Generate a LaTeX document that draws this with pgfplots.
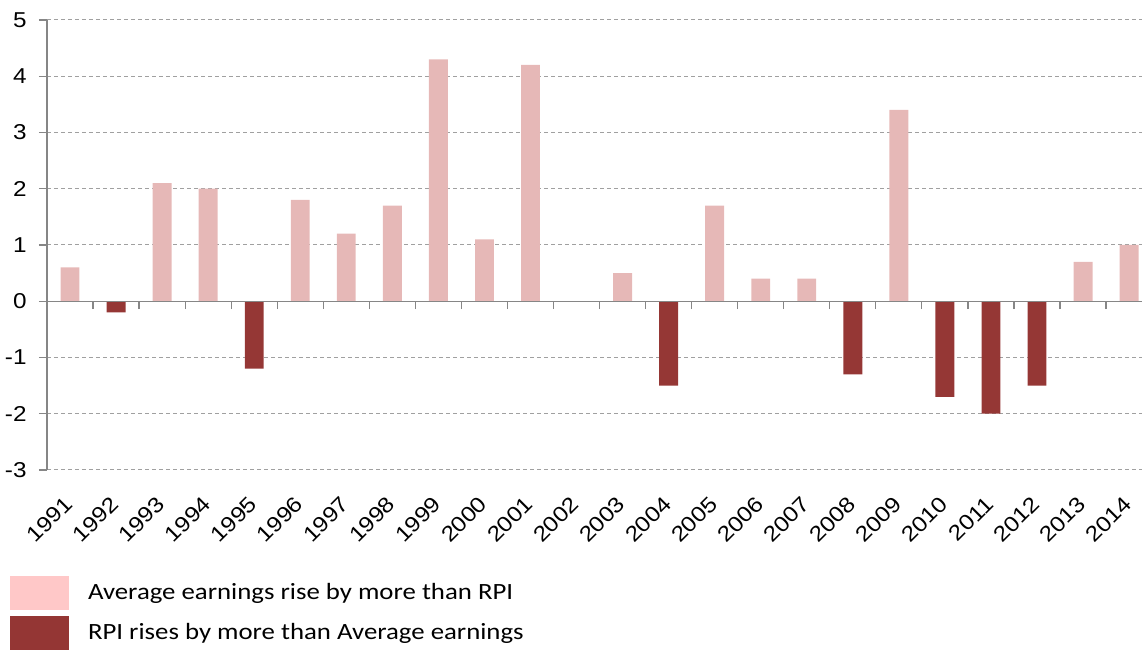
\documentclass[border=0pt]{standalone}
\usepackage{fontspec}
\setmainfont{Liberation Sans}[FakeStretch=1.13]
\newfontfamily\carlito{Carlito}[FakeStretch=1.15]
\usepackage{pgfplots}
\pgfplotsset{compat=1.18}

\definecolor{barpink}{HTML}{E6B8B7}
\definecolor{barred}{HTML}{953735}
\definecolor{legpink}{HTML}{FFC8C8}
\definecolor{legred}{HTML}{943634}
\definecolor{axisgray}{HTML}{868686}
\definecolor{gridgray}{HTML}{A0A0A0}

\begin{document}
\begin{tikzpicture}
\pgfplotsset{
  frame/.style={
    width=547.5pt, height=225pt, scale only axis,
    xmin=-0.5, xmax=23.28, ymin=-3, ymax=5,
  },
}
\begin{axis}[
  frame,
  axis lines*=left,
  x axis line style={draw=none},
  y axis line style={axisgray, line width=0.6pt},
  ytick={-3,...,5},
  ymajorgrids,
  grid style={gridgray, line width=0.5pt, dash pattern=on 2pt off 1.5pt},
  major y tick style={axisgray, line width=0.6pt},
  major x tick style={draw=none},
  tick align=outside,
  major tick length=4pt,
  /pgf/number format/assume math mode=true,
  tick label style={font=\fontsize{10.75}{12}\selectfont, inner sep=0pt},
  yticklabel style={xshift=-6pt},
  xtick={0,...,23},
  xticklabels={1991,1992,1993,1994,1995,1996,1997,1998,1999,2000,2001,2002,2003,2004,2005,2006,2007,2008,2009,2010,2011,2012,2013,2014},
  xticklabel style={xshift=-0.5pt, yshift=-11pt, rotate=45, anchor=east},
  ybar, bar width=0.41, bar shift=0pt,
  legend cell align=left,
  legend style={at={(0,0)}, anchor=north west, xshift=-18.5pt, yshift=-53pt,
    draw=none, fill=none, inner sep=0pt, outer sep=0pt, row sep=3pt,
    font=\carlito\fontsize{11.65}{14}\selectfont,
    nodes={inner sep=0pt},
    /tikz/every odd column/.append style={column sep=9.5pt}},
  clip=false,
]
% Years in which average earnings outpaced RPI
\addplot[fill=barpink, draw=none,
  legend image code/.code={\fill[legpink] (0pt,-8.5pt) rectangle (29.5pt,8.5pt);}]
  coordinates {(0,0.6) (2,2.1) (3,2.0) (5,1.8) (6,1.2) (7,1.7) (8,4.3) (9,1.1)
    (10,4.2) (12,0.5) (14,1.7) (15,0.4) (16,0.4) (18,3.4) (22,0.7) (23,1.0)};
\addlegendentry{Average earnings rise by more than RPI}
% Years in which RPI outpaced average earnings
\addplot[fill=barred, draw=none,
  legend image code/.code={\fill[legred] (0pt,-8.5pt) rectangle (29.5pt,8.5pt);}]
  coordinates {(1,-0.2) (4,-1.2) (13,-1.5) (17,-1.3) (19,-1.7) (20,-2.0) (21,-1.5)};
\addlegendentry{RPI rises by more than Average earnings}
\end{axis}
% zero line with category separators
\begin{axis}[
  frame,
  axis x line=middle, axis y line=none,
  axis line style={-, axisgray, line width=0.6pt},
  xtick={0.5,1.5,...,22.5},
  xticklabels={},
  tick align=outside,
  major tick length=4pt,
  major x tick style={axisgray, line width=0.6pt},
  ytick=\empty,
]
\end{axis}
\pgfresetboundingbox
\path (-23.5pt,235pt) rectangle (547.5pt,-91pt);
\end{tikzpicture}
\end{document}
